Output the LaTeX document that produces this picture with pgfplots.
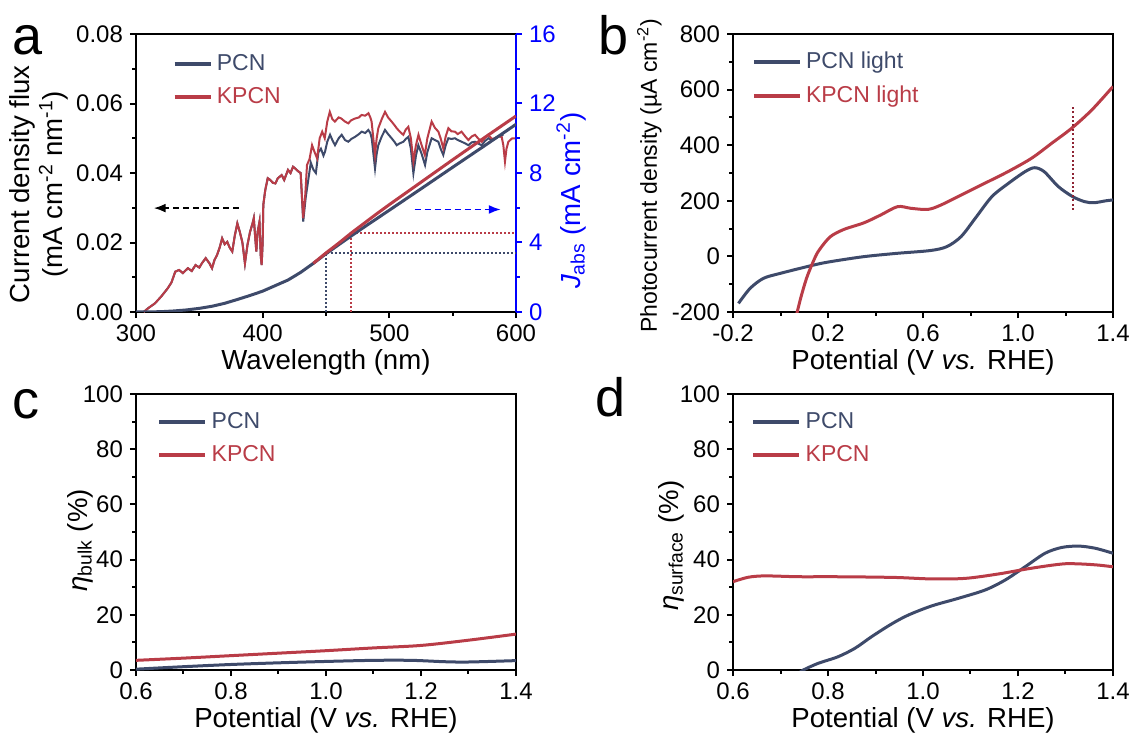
\documentclass[border=0pt]{standalone}
\usepackage{fontspec}
\setmainfont{Liberation Sans}
\usepackage{pgfplots}
\pgfplotsset{compat=1.18}
\usetikzlibrary{arrows.meta}
\definecolor{pcn}{HTML}{3E4A6A}
\definecolor{kpcn}{HTML}{B93C47}
\definecolor{dotred}{HTML}{8E2333}
\pgfplotsset{
 base/.style={
  scale only axis, width=190pt, height=139pt,
  axis line style={line width=1.3pt},
  tick align=outside, xtick pos=left, ytick pos=left,
  major tick length=3pt, minor tick length=1.8pt,
  every tick/.style={black, line width=1pt},
  tick label style={font=\fontsize{12}{12}\selectfont},
  label style={font=\fontsize{13.8}{16.5}\selectfont, inner sep=0pt},
  minor x tick num=1, minor y tick num=1,
  scaled y ticks=false, scaled x ticks=false,
  legend style={draw=none, fill=none, inner sep=0pt, font=\fontsize{11.5}{13}\selectfont, row sep=3pt, anchor=north west},
  legend cell align=left,
  xlabel style={at={(axis description cs:0.5,-0.135)}, anchor=north},
 },
 leglong/.style={legend image code/.code={\draw[##1, line width=2.2pt] (0pt,0pt) -- (23pt,0pt);}},
 legshort/.style={legend image code/.code={\draw[##1, line width=2.2pt] (0pt,0pt) -- (18pt,0pt);}},
}
\begin{document}
\begin{tikzpicture}
\path[use as bounding box] (0,0) rectangle (565pt,367.5pt);
% ---------------- panel a ----------------
\begin{axis}[base, legshort, at={(68pt,211.5pt)}, anchor=south west,
  xmin=300, xmax=600, ymin=0, ymax=0.08,
  xtick={300,400,500,600}, xticklabels={300,400,500,600},
  ytick={0,0.02,0.04,0.06,0.08}, yticklabels={0.00,0.02,0.04,0.06,0.08},
  xlabel={Wavelength (nm)},
  ylabel={Current density flux\\(mA cm\textsuperscript{-2} nm\textsuperscript{-1})},
  ylabel style={align=center, at={(axis description cs:-0.255,0.46)}, anchor=center},
  legend style={at={(0.095,0.942)}},
]
\addplot[pcn, line width=1pt] coordinates {
(306,0.000)(310,0.0012)(315,0.0025)(320,0.0045)(325,0.0068)(328,0.0085)(331,0.0116)(334,0.0121)(337,0.0112)(341,0.0126)(344,0.0118)(347,0.0135)(350,0.0128)(352,0.0140)(355,0.0155)(358,0.0140)(360,0.0126)(362,0.0150)(364,0.0164)(366,0.0185)(368,0.0212)(370,0.0195)(372,0.0202)(374,0.0185)(376,0.0174)(378,0.0220)(380,0.0255)(382,0.0230)(384,0.0200)(386,0.0140)(388,0.0193)(390,0.0230)(392,0.0255)(393,0.0270)(394,0.0220)(395,0.0174)(396,0.0230)(397.5,0.0260)(398.5,0.0160)(399.2,0.0135)(400,0.0200)(400.5,0.0308)(402,0.0350)(404,0.0385)(406,0.0380)(408,0.0372)(410,0.0370)(412,0.0385)(415,0.0394)(417,0.0380)(420,0.0409)(422,0.0400)(424,0.0418)(426,0.0412)(428,0.0405)(430,0.0400)
(432,0.0260)(434,0.0330)(436,0.0380)(438,0.0430)(440,0.0410)(442,0.0400)(444,0.0460)(446,0.0470)(448,0.0450)(449.2,0.0461)(451,0.0490)(453.2,0.0510)(455,0.0495)(457.1,0.0480)(460,0.0500)(462.4,0.0510)(465,0.0495)(467.6,0.0490)(470,0.0498)(472.9,0.0504)(476,0.0512)(478.2,0.0519)(481,0.0515)(483.4,0.0524)(485,0.0515)(486.1,0.0500)(488.7,0.0413)(490,0.0455)(491.3,0.0480)(494,0.0505)(496.6,0.0524)(499,0.0512)(501.8,0.0500)(504,0.0490)(505.8,0.0480)(508,0.0485)(511.1,0.0490)(513,0.0498)(515,0.0504)(517,0.0470)(519,0.0399)(521,0.0450)(522.9,0.0480)(525.5,0.0455)(528.2,0.0423)(530,0.0460)(533.4,0.0500)(536,0.0495)(538.7,0.0490)(540.5,0.0470)(542.6,0.0452)(544.5,0.0480)(546.6,0.0500)(549,0.0498)(551.8,0.0500)(554,0.0495)(557.1,0.0490)(560,0.0485)(562.4,0.0480)(565,0.0488)(567.6,0.0490)(570,0.0485)(572.9,0.0480)(575.5,0.0492)(578.2,0.0500)(581,0.0495)(583.4,0.0500)(586,0.0505)(590,0.0510)};
\addlegendentry{\textcolor{pcn}{PCN}}
\addplot[kpcn, line width=1pt] coordinates {
(306,0.000)(310,0.0012)(315,0.0025)(320,0.0045)(325,0.0068)(328,0.0085)(331,0.0116)(334,0.0121)(337,0.0112)(341,0.0126)(344,0.0118)(347,0.0135)(350,0.0128)(352,0.0140)(355,0.0155)(358,0.0140)(360,0.0126)(362,0.0150)(364,0.0164)(366,0.0185)(368,0.0212)(370,0.0195)(372,0.0202)(374,0.0185)(376,0.0174)(378,0.0220)(380,0.0255)(382,0.0230)(384,0.0200)(386,0.0140)(388,0.0193)(390,0.0230)(392,0.0255)(393,0.0270)(394,0.0220)(395,0.0174)(396,0.0230)(397.5,0.0260)(398.5,0.0160)(399.2,0.0135)(400,0.0200)(400.5,0.0308)(402,0.0350)(404,0.0385)(406,0.0380)(408,0.0372)(410,0.0370)(412,0.0385)(415,0.0394)(417,0.0380)(420,0.0409)(422,0.0400)(424,0.0418)(426,0.0412)(428,0.0405)(430,0.0400)
(432,0.0270)(433.5,0.0330)(435,0.0423)(437,0.0440)(439,0.0480)(441,0.0460)(443,0.0442)(445,0.0500)(447,0.0519)(449,0.0500)(451,0.0548)(453,0.0576)(455,0.0555)(457,0.0548)(460,0.0560)(462,0.0557)(465,0.0548)(467.6,0.0543)(470,0.0552)(473,0.0557)(476,0.0560)(478,0.0567)(481,0.0565)(483.5,0.0572)(485,0.0560)(486,0.0548)(488.7,0.0452)(490,0.0500)(491.3,0.0529)(494,0.0555)(496.6,0.0576)(499,0.0560)(501.8,0.0548)(504,0.0538)(505.8,0.0529)(508,0.0520)(511,0.0510)(513,0.0525)(515,0.0533)(517,0.0500)(519,0.0433)(521,0.0480)(523,0.0510)(525.5,0.0480)(528,0.0452)(530,0.0500)(533.4,0.0548)(536,0.0530)(538.7,0.0519)(540.5,0.0500)(542.6,0.0471)(544.5,0.0505)(546.6,0.0529)(549,0.0520)(551.8,0.0519)(554,0.0512)(557,0.0519)(560,0.0505)(562.4,0.0495)(565,0.0505)(567.6,0.0510)(570,0.0500)(573,0.0490)(575.5,0.0502)(578,0.0510)(581,0.0498)(583.4,0.0500)(586,0.0505)(588.7,0.0504)(590,0.0480)(591.3,0.0433)(592.5,0.0470)(594,0.0490)(597,0.0500)(600,0.0500)};
\addlegendentry{\textcolor{kpcn}{KPCN}}
\addplot[black, line width=0.9pt, dash pattern=on 3pt off 2pt, -{Latex[length=6pt,width=4.5pt]}, forget plot] coordinates {(381,0.0299) (314,0.0299)};
\end{axis}
\begin{axis}[base, at={(68pt,211.5pt)}, anchor=south west,
  xmin=300, xmax=600, ymin=0, ymax=16,
  axis x line=none, axis y line*=right, ytick pos=right,
  ytick={0,4,8,12,16}, yticklabels={0,4,8,12,16},
  y axis line style={blue, line width=1.3pt},
  ytick style={blue, line width=1pt},
  yticklabel style={blue},
  ylabel={{\itshape J}\textsubscript{abs} (mA cm\textsuperscript{-2})},
  ylabel style={blue, at={(axis description cs:1.145,0.40)}, anchor=center},
]
\addplot[pcn, line width=0.9pt, dash pattern=on 0.8pt off 1.2pt] coordinates {(450,0) (450,3.4) (600,3.4)};
\addplot[kpcn, line width=0.9pt, dash pattern=on 0.8pt off 1.2pt] coordinates {(470,0) (470,4.55) (600,4.55)};
\addplot[pcn, line width=1.5pt] coordinates {(300,0)(310,0.005)(320,0.02)(330,0.06)(340,0.12)(350,0.21)(360,0.33)(370,0.50)(380,0.72)(390,0.95)(400,1.20)(410,1.52)(420,1.84)(430,2.28)(440,2.80)(450,3.35)(460,3.87)(470,4.38)(480,4.88)(490,5.37)(500,5.86)(525,7.09)(550,8.33)(575,9.56)(600,10.80)};
\addplot[kpcn, line width=1.5pt] coordinates {(440,2.80)(450,3.40)(460,3.96)(470,4.55)(480,5.10)(490,5.65)(500,6.18)(525,7.47)(550,8.76)(575,10.03)(600,11.28)};
\addplot[blue, line width=0.9pt, dash pattern=on 3pt off 2pt, -{Latex[length=6pt,width=4.5pt]}] coordinates {(520,5.9) (588,5.9)};
\end{axis}
% ---------------- panel b ----------------
\begin{axis}[base, leglong, at={(366.5pt,211.5pt)}, anchor=south west,
  xmin=-0.2, xmax=1.4, ymin=-200, ymax=800,
  xtick={-0.2,0.2,0.6,1.0,1.4}, xticklabels={-0.2,0.2,0.6,1.0,1.4},
  ytick={-200,0,200,400,600,800}, yticklabels={-200,0,200,400,600,800},
  xlabel={Potential (V \textit{vs.} RHE)},
  ylabel={Photocurrent density (µA cm\textsuperscript{-2})},
  ylabel style={font=\fontsize{11.5}{13}\selectfont, at={(axis description cs:-0.22,0.49)}, anchor=center},
  legend style={at={(0.048,0.95)}},
]
\addplot[pcn, line width=1.5pt, smooth] coordinates {(-0.177,-169)(-0.128,-115)(-0.072,-79)(-0.001,-61)(0.14,-31)(0.21,-19)(0.35,-1)(0.49,11)(0.63,21)(0.70,35)(0.76,71)(0.82,137)(0.89,215)(0.96,263)(1.03,305)(1.07,319)(1.11,305)(1.17,251)(1.23,215)(1.28,197)(1.32,193)(1.37,200)(1.4,203)};
\addlegendentry{\textcolor{pcn}{PCN light}}
\addplot[kpcn, line width=1.5pt, smooth] coordinates {(0.062,-230)(0.085,-150)(0.112,-73)(0.147,-1)(0.168,29)(0.21,71)(0.267,97)(0.352,121)(0.422,149)(0.493,179)(0.549,173)(0.62,169)(0.676,185)(0.775,227)(0.86,263)(0.958,305)(1.057,353)(1.142,407)(1.226,461)(1.311,527)(1.4,611)};
\addlegendentry{\textcolor{kpcn}{KPCN light}}
\addplot[dotred, line width=1.1pt, dash pattern=on 1pt off 1.2pt, forget plot] coordinates {(1.23,167) (1.23,536)};
\end{axis}
% ---------------- panel c ----------------
\begin{axis}[base, leglong, at={(68pt,32.5pt)}, anchor=south west, height=138pt,
  xmin=0.6, xmax=1.4, ymin=0, ymax=100,
  xtick={0.6,0.8,1.0,1.2,1.4}, xticklabels={0.6,0.8,1.0,1.2,1.4},
  ytick={0,20,40,60,80,100}, yticklabels={0,20,40,60,80,100},
  xlabel={Potential (V \textit{vs.} RHE)},
  ylabel={{\itshape η}\textsubscript{bulk} (\%)},
  ylabel style={at={(axis description cs:-0.147,0.47)}, anchor=center},
  legend style={at={(0.055,0.95)}},
]
\addplot[pcn, line width=1.5pt, smooth] coordinates {(0.6,0.3)(0.7,1.2)(0.8,2.0)(0.9,2.6)(1.0,3.1)(1.1,3.5)(1.18,3.5)(1.25,3.0)(1.3,2.9)(1.4,3.4)};
\addlegendentry{\textcolor{pcn}{PCN}}
\addplot[kpcn, line width=1.5pt, smooth] coordinates {(0.6,3.5)(0.7,4.3)(0.8,5.2)(0.9,6.1)(1.0,7.0)(1.1,8.0)(1.2,8.9)(1.3,10.8)(1.4,13.0)};
\addlegendentry{\textcolor{kpcn}{KPCN}}
\end{axis}
% ---------------- panel d ----------------
\begin{axis}[base, leglong, at={(366.5pt,32.5pt)}, anchor=south west, height=138pt,
  xmin=0.6, xmax=1.4, ymin=0, ymax=100,
  xtick={0.6,0.8,1.0,1.2,1.4}, xticklabels={0.6,0.8,1.0,1.2,1.4},
  ytick={0,20,40,60,80,100}, yticklabels={0,20,40,60,80,100},
  xlabel={Potential (V \textit{vs.} RHE)},
  ylabel={{\itshape η}\textsubscript{surface} (\%)},
  ylabel style={at={(axis description cs:-0.163,0.45)}, anchor=center},
  legend style={at={(0.047,0.95)}},
]
\addplot[pcn, line width=1.5pt, smooth] coordinates {(0.74,-1)(0.748,0)(0.779,2.4)(0.821,4.8)(0.857,7.9)(0.892,12.1)(0.934,16.7)(0.969,19.9)(1.018,23.2)(1.075,26.0)(1.131,29.0)(1.173,32.6)(1.215,37.4)(1.257,42.3)(1.292,44.4)(1.328,44.9)(1.363,44.1)(1.4,42.3)};
\addlegendentry{\textcolor{pcn}{PCN}}
\addplot[kpcn, line width=1.5pt, smooth] coordinates {(0.6,32.0)(0.632,33.6)(0.667,34.1)(0.737,33.8)(0.807,33.8)(0.878,33.7)(0.948,33.5)(1.018,33.0)(1.089,33.2)(1.159,34.8)(1.215,36.5)(1.264,37.8)(1.30,38.5)(1.335,38.4)(1.37,38.0)(1.4,37.4)};
\addlegendentry{\textcolor{kpcn}{KPCN}}
\end{axis}
% ---------------- panel letters ----------------
\node[anchor=base west, inner sep=0pt, font=\fontsize{27}{27}\selectfont] at (6pt,340pt) {a};
\node[anchor=base west, inner sep=0pt, font=\fontsize{27}{27}\selectfont] at (299pt,340pt) {b};
\node[anchor=base west, inner sep=0pt, font=\fontsize{27}{27}\selectfont] at (6pt,158.5pt) {c};
\node[anchor=base west, inner sep=0pt, font=\fontsize{27}{27}\selectfont] at (297.5pt,159.5pt) {d};
\end{tikzpicture}
\end{document}
